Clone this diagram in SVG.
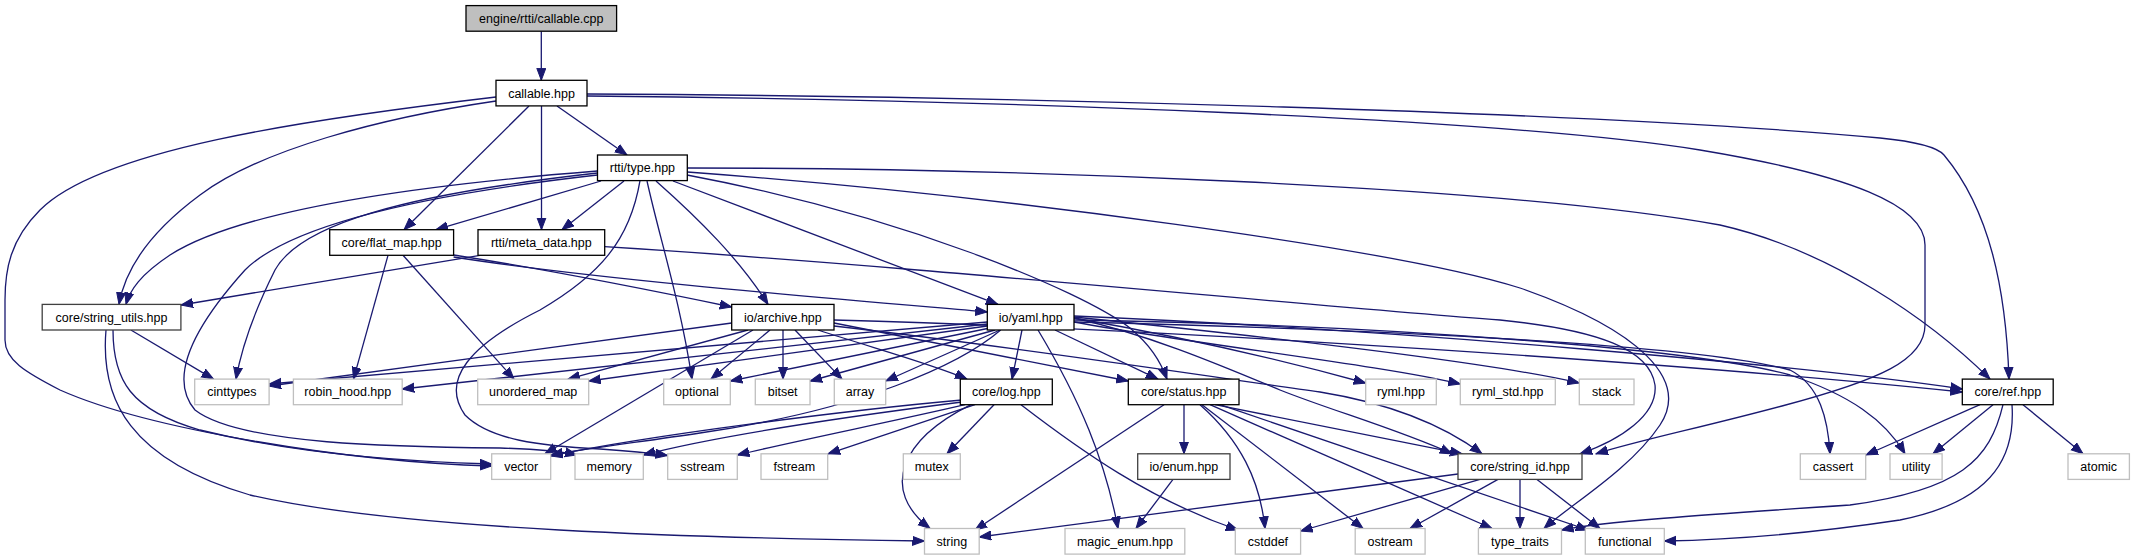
<svg xmlns="http://www.w3.org/2000/svg" width="2135" height="560" viewBox="0 0 2135 560">
<defs>
<style>
.n rect{fill:#fff;stroke:#000;stroke-width:1.3}
.n.g rect{stroke:#bfbfbf}
.n.d rect{stroke:#404040}
.n.root rect{fill:#bfbfbf}
text{font-family:"Liberation Sans",Arial,Helvetica,sans-serif;font-size:12.5px;text-anchor:middle;fill:#000}
#edges path{fill:none;stroke:#191970;stroke-width:1.3;marker-end:url(#a)}
</style>
<marker id="a" markerWidth="13" markerHeight="11" refX="12" refY="5" orient="auto" markerUnits="userSpaceOnUse"><path d="M0,0.5 L12,5 L0,9.5 z" fill="#191970" stroke="#191970" stroke-width="1"/></marker>
</defs>
<rect width="2135" height="560" fill="#fff"/>
<g id="edges">
<path d="M541.3,31.2 L541.3,80.3"/>
<path d="M557,106 L627,155"/>
<path d="M541.5,106 L541.5,229.7"/>
<path d="M529,106 L404,229.7"/>
<path d="M496,101 C380,118 260,150 200,195 C150,232 125,270 119,304.4"/>
<path d="M496,97 C300,120 100,150 40,210 C10,240 5,270 5,300 L5,340 C5,360 25,372 60,390 C150,430 350,462 491.7,466"/>
<path d="M587,94 C1000,96 1600,112 1880,138 C1920,142 1938,148 1944,155 C1990,210 2006,290 2009,379.1"/>
<path d="M587,96 C1000,100 1500,118 1700,150 C1850,175 1925,205 1925,245 L1925,325 C1925,360 1880,380 1782,406 C1700,428 1640,440 1596,453.8"/>
<path d="M601,181 L436,229.7"/>
<path d="M624,181 L562,229.7"/>
<path d="M597.5,171 C420,185 240,210 170,255 C140,275 130,290 126,304.4"/>
<path d="M597.5,173 C400,195 300,225 275,270 C255,310 242,345 236,379.1"/>
<path d="M597.5,175 C420,195 290,225 245,270 C200,320 165,375 195,410 C240,445 400,447 500,448 C540,449 560,451 577,455"/>
<path d="M640,180.6 C630,240 600,275 540,310 C470,345 440,380 465,415 C490,440 540,446 600,449 C630,451 650,453 667.7,455.5"/>
<path d="M647,181 C660,240 680,300 692,379.1"/>
<path d="M656,181 C700,220 740,260 768,304.4"/>
<path d="M673,181 L998,304.4"/>
<path d="M687,175 C900,215 1080,290 1130,328 C1150,345 1160,360 1167,379.1"/>
<path d="M687.3,168 C1000,168 1500,185 1720,225 C1830,250 1930,320 1990,379.1"/>
<path d="M687.3,172 C1000,195 1400,250 1520,288 C1640,330 1690,380 1660,425 C1630,470 1570,505 1544,528.5"/>
<path d="M388,255.3 L353.5,379.1"/>
<path d="M403,255.3 L514,379.1"/>
<path d="M453.6,255 C550,270 650,290 731.7,307"/>
<path d="M453.6,257 C600,280 850,300 987.3,312"/>
<path d="M480,255.3 L181,305"/>
<path d="M604.7,246.7 C900,265 1300,305 1500,320 C1600,330 1650,350 1655,385 C1658,415 1620,440 1580,453.8"/>
<path d="M731.7,323 L269.1,386"/>
<path d="M748,330 L568,379.1"/>
<path d="M753,330 L545,453.8"/>
<path d="M770,330 L711,379.1"/>
<path d="M783,330 L783,379.1"/>
<path d="M795,330 L842,379.1"/>
<path d="M818,330 C880,350 935,365 967,379.1"/>
<path d="M834,323 C950,345 1050,365 1128.3,381"/>
<path d="M834,326 C1000,345 1200,375 1320,392 C1400,405 1450,430 1482,453.8"/>
<path d="M834,320 C1200,330 1700,365 1962.3,392"/>
<path d="M987.3,324 L402.2,389"/>
<path d="M987.3,326 L588.7,381"/>
<path d="M987.3,322 L269.1,384"/>
<path d="M990,328 L730.3,381"/>
<path d="M995,330 L810,381"/>
<path d="M1000,330 L885.7,381"/>
<path d="M1000.7,330 C960,365 860,410 700,433 C640,442 590,448 550.7,455"/>
<path d="M1022,330 L1012,379.1"/>
<path d="M1038,330 C1080,400 1105,460 1118,528.5"/>
<path d="M1055,330 L1158,379.1"/>
<path d="M1074,318 C1200,340 1300,365 1365.7,383"/>
<path d="M1074,322 C1200,345 1380,365 1460.3,384"/>
<path d="M1074,317 C1250,335 1480,360 1579.3,383"/>
<path d="M1074,316 C1400,330 1800,365 1962.3,389"/>
<path d="M1074,318 C1150,335 1220,365 1280,390 C1330,410 1400,430 1452,453.8"/>
<path d="M1074,322 C1400,330 1700,345 1790,370 C1820,385 1828,420 1830,453.8"/>
<path d="M1074,320 C1400,325 1700,350 1790,375 C1850,395 1885,420 1905,453.8"/>
<path d="M962,400 C850,410 650,435 550.7,456"/>
<path d="M962,402 C860,415 720,435 643.3,455"/>
<path d="M965,404.7 C900,420 800,440 737.3,455"/>
<path d="M975,404.7 L828,453.8"/>
<path d="M994,404.7 L947,453.8"/>
<path d="M971,404.7 C900,440 880,490 930,528.5"/>
<path d="M1021,404.7 C1080,450 1150,500 1238,530"/>
<path d="M1184,404.7 L1184,453.8"/>
<path d="M1164,404.7 L975,530"/>
<path d="M1200,404.7 C1240,440 1260,480 1265,528.5"/>
<path d="M1202,404.7 L1363,528.5"/>
<path d="M1210,404.7 L1492,528.5"/>
<path d="M1220,404.7 L1588,530"/>
<path d="M1215,404.7 L1462,453.8"/>
<path d="M1173,479.4 L1136,528.5"/>
<path d="M1458,474 L979.2,537"/>
<path d="M1480,479.4 L1300.6,531"/>
<path d="M1498,479.4 L1410,528.5"/>
<path d="M1520,479.4 L1520,528.5"/>
<path d="M1537,479.4 L1600,528.5"/>
<path d="M1980,404.7 L1866,455"/>
<path d="M1993,404.7 L1933,453.8"/>
<path d="M2023,404.7 L2083,453.8"/>
<path d="M2003,404.7 C1990,460 1960,490 1850,505 C1700,515 1600,522 1561.5,530"/>
<path d="M2012,404.7 C2015,450 2000,500 1900,520 C1800,535 1720,540 1664.3,541"/>
<path d="M130.9,330 L213.5,379.1"/>
<path d="M113,330 C113,380 130,410 200,430 C300,455 420,462 491.7,464"/>
<path d="M106,330 C100,400 130,460 250,495 C400,530 700,538 924.5,541"/>
</g>
<g id="callable_cpp" class="n root"><rect x="466" y="5.6" width="150.6" height="25.6"/><text x="541.3" y="22.9">engine/rtti/callable.cpp</text></g>
<g id="callable_hpp" class="n"><rect x="496" y="80.3" width="91" height="25.6"/><text x="541.5" y="97.6">callable.hpp</text></g>
<g id="rtti_type" class="n"><rect x="597.5" y="155" width="89.8" height="25.6"/><text x="642.4" y="172.3">rtti/type.hpp</text></g>
<g id="core_flat_map" class="n"><rect x="329.7" y="229.7" width="123.9" height="25.6"/><text x="391.65" y="247">core/flat_map.hpp</text></g>
<g id="rtti_meta_data" class="n"><rect x="478" y="229.7" width="126.7" height="25.6"/><text x="541.35" y="247">rtti/meta_data.hpp</text></g>
<g id="core_string_utils" class="n d"><rect x="42.2" y="304.4" width="138.7" height="25.6"/><text x="111.55" y="321.7">core/string_utils.hpp</text></g>
<g id="io_archive" class="n"><rect x="731.7" y="304.4" width="102.3" height="25.6"/><text x="782.85" y="321.7">io/archive.hpp</text></g>
<g id="io_yaml" class="n"><rect x="987.3" y="304.4" width="86.7" height="25.6"/><text x="1030.65" y="321.7">io/yaml.hpp</text></g>
<g id="cinttypes" class="n g"><rect x="194.7" y="379.1" width="74.4" height="25.6"/><text x="231.9" y="396.4">cinttypes</text></g>
<g id="robin_hood" class="n g"><rect x="293.4" y="379.1" width="108.8" height="25.6"/><text x="347.8" y="396.4">robin_hood.hpp</text></g>
<g id="unordered_map" class="n g"><rect x="477.7" y="379.1" width="111" height="25.6"/><text x="533.2" y="396.4">unordered_map</text></g>
<g id="optional" class="n g"><rect x="663.7" y="379.1" width="66.6" height="25.6"/><text x="697" y="396.4">optional</text></g>
<g id="bitset" class="n g"><rect x="755.3" y="379.1" width="54.7" height="25.6"/><text x="782.65" y="396.4">bitset</text></g>
<g id="array" class="n g"><rect x="834.3" y="379.1" width="51.4" height="25.6"/><text x="860" y="396.4">array</text></g>
<g id="core_log" class="n"><rect x="960.3" y="379.1" width="92" height="25.6"/><text x="1006.3" y="396.4">core/log.hpp</text></g>
<g id="core_status" class="n"><rect x="1128.3" y="379.1" width="110.7" height="25.6"/><text x="1183.65" y="396.4">core/status.hpp</text></g>
<g id="ryml" class="n g"><rect x="1365.7" y="379.1" width="70.6" height="25.6"/><text x="1401" y="396.4">ryml.hpp</text></g>
<g id="ryml_std" class="n g"><rect x="1460.3" y="379.1" width="95" height="25.6"/><text x="1507.8" y="396.4">ryml_std.hpp</text></g>
<g id="stack" class="n g"><rect x="1579.3" y="379.1" width="54.7" height="25.6"/><text x="1606.65" y="396.4">stack</text></g>
<g id="core_ref" class="n"><rect x="1962.3" y="379.1" width="90.9" height="25.6"/><text x="2007.75" y="396.4">core/ref.hpp</text></g>
<g id="vector" class="n g"><rect x="491.7" y="453.8" width="59" height="25.6"/><text x="521.2" y="471.1">vector</text></g>
<g id="memory" class="n g"><rect x="575" y="453.8" width="68.3" height="25.6"/><text x="609.15" y="471.1">memory</text></g>
<g id="sstream" class="n g"><rect x="667.7" y="453.8" width="69.6" height="25.6"/><text x="702.5" y="471.1">sstream</text></g>
<g id="fstream" class="n g"><rect x="761" y="453.8" width="66.7" height="25.6"/><text x="794.35" y="471.1">fstream</text></g>
<g id="mutex" class="n g"><rect x="903.3" y="453.8" width="57" height="25.6"/><text x="931.8" y="471.1">mutex</text></g>
<g id="io_enum" class="n d"><rect x="1137.7" y="453.8" width="92.3" height="25.6"/><text x="1183.85" y="471.1">io/enum.hpp</text></g>
<g id="core_string_id" class="n d"><rect x="1458" y="453.8" width="124" height="25.6"/><text x="1520" y="471.1">core/string_id.hpp</text></g>
<g id="cassert" class="n g"><rect x="1800.3" y="453.8" width="65.4" height="25.6"/><text x="1833" y="471.1">cassert</text></g>
<g id="utility" class="n g"><rect x="1890" y="453.8" width="52.1" height="25.6"/><text x="1916.05" y="471.1">utility</text></g>
<g id="atomic" class="n g"><rect x="2068" y="453.8" width="61.4" height="25.6"/><text x="2098.7" y="471.1">atomic</text></g>
<g id="string" class="n g"><rect x="924.5" y="528.5" width="54.7" height="25.6"/><text x="951.85" y="545.8">string</text></g>
<g id="magic_enum" class="n g"><rect x="1065" y="528.5" width="119.8" height="25.6"/><text x="1124.9" y="545.8">magic_enum.hpp</text></g>
<g id="cstddef" class="n g"><rect x="1235.3" y="528.5" width="65.3" height="25.6"/><text x="1267.95" y="545.8">cstddef</text></g>
<g id="ostream" class="n g"><rect x="1355.2" y="528.5" width="69.9" height="25.6"/><text x="1390.15" y="545.8">ostream</text></g>
<g id="type_traits" class="n g"><rect x="1478.4" y="528.5" width="83.1" height="25.6"/><text x="1519.95" y="545.8">type_traits</text></g>
<g id="functional" class="n g"><rect x="1585.3" y="528.5" width="79" height="25.6"/><text x="1624.8" y="545.8">functional</text></g>
</svg>
